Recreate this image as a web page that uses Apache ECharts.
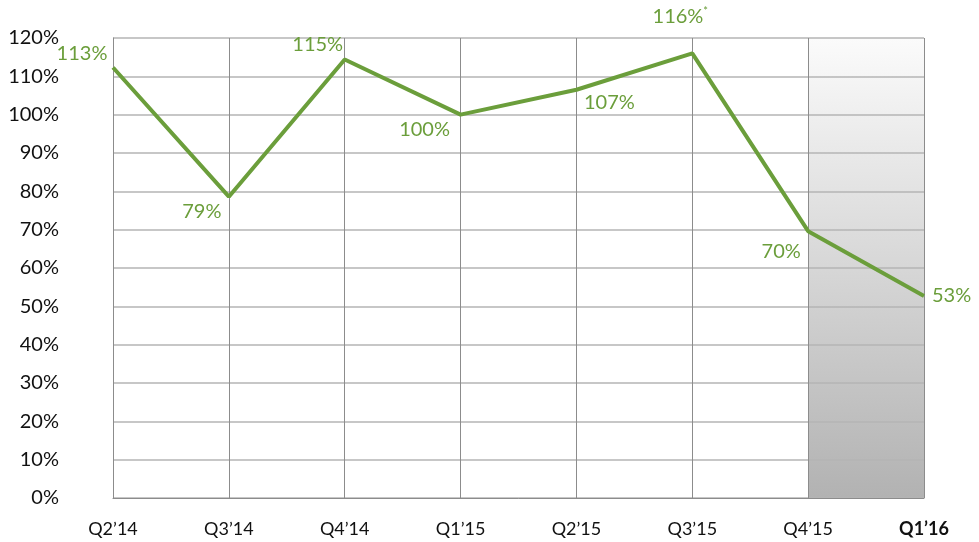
<!DOCTYPE html>
<html><head><meta charset="utf-8">
<script src="https://cdn.jsdelivr.net/npm/echarts@6/dist/echarts.min.js"></script>
<style>html,body{margin:0;padding:0;background:#fff}#c{width:979px;height:542px}</style>
</head><body><div id="c"></div>
<script>
const categories = ["Q2\u201914","Q3\u201914","Q4\u201914","Q1\u201915","Q2\u201915","Q3\u201915","Q4\u201915","Q1\u201916"];
const values = [112.3, 78.6, 114.4, 100.0, 106.5, 116.0, 69.6, 52.7];
const labels = ["113%","79%","115%","100%","107%","116%","70%","53%"];
const labelNotes = ["","","","","","*","",""];
const yTicks = [0,10,20,30,40,50,60,70,80,90,100,110,120];
const shadedRange = ["Q4\u201915","Q1\u201916"];

const green = '#6b9e3b';
const placement = [
  {position:'top', offset:[-31,1]},
  {position:'bottom', offset:[-27,0]},
  {position:'top', offset:[-27,0]},
  {position:'bottom', offset:[-36,0]},
  {position:'bottom', offset:[33,-2]},
  {position:'top', offset:[-12,-21]},
  {position:'bottom', offset:[-27,5]},
  {position:'right', offset:[3,0]}
];
const data = values.map((v,i)=>({
  value:v,
  label:{show:true, position:placement[i].position, offset:placement[i].offset,
    formatter: labelNotes[i] ? '{a|'+labels[i]+'}{s|'+labelNotes[i]+'}' : '{a|'+labels[i]+'}'}
}));

const chart = echarts.init(document.getElementById('c'));
chart.setOption({
  animation:false,
  grid:{left:113,right:55,top:38,bottom:44,containLabel:false},
  xAxis:{
    type:'category', data:categories, boundaryGap:false, z:3,
    axisLine:{show:true,lineStyle:{color:'#8c8c8c',width:1}},
    axisTick:{show:false},
    axisLabel:{margin:22,fontFamily:'Lato',fontSize:18,color:'#111',
      formatter:(v,i)=> i===categories.length-1 ? '{b|'+v+'}' : v,
      rich:{b:{fontWeight:'bold',fontFamily:'Lato',fontSize:18,color:'#111'}}},
    splitLine:{show:true,lineStyle:{color:'#8c8c8c',width:1}}
  },
  yAxis:{
    type:'value', min:0, max:120, interval:10, z:3,
    axisLine:{show:true,lineStyle:{color:'#8c8c8c',width:1}},
    axisTick:{show:false},
    axisLabel:{margin:54,fontFamily:'Lato',fontSize:20,color:'#111',formatter:'{value}%'},
    splitLine:{show:true,lineStyle:{color:'#b4b4b4',width:1.5}}
  },
  series:[{
    type:'line', data:[], z:1, silent:true,
    markArea:{silent:true,
      itemStyle:{color:new echarts.graphic.LinearGradient(0,0,0,1,[{offset:0,color:'#fbfbfb'},{offset:1,color:'#b2b2b2'}])},
      data:[[{xAxis:shadedRange[0],yAxis:120},{xAxis:shadedRange[1],yAxis:0}]]
    }
  },{
    type:'line', data:data, symbol:'circle', symbolSize:0, showSymbol:true,
    itemStyle:{color:green},
    lineStyle:{color:green,width:4},
    label:{color:green, rich:{
      a:{fontFamily:'Lato',fontSize:20,color:green},
      s:{fontFamily:'Lato',fontSize:11,color:green,verticalAlign:'top',padding:[0,0,10,0]}
    }},
    z:5
  }]
});
</script></body></html>
